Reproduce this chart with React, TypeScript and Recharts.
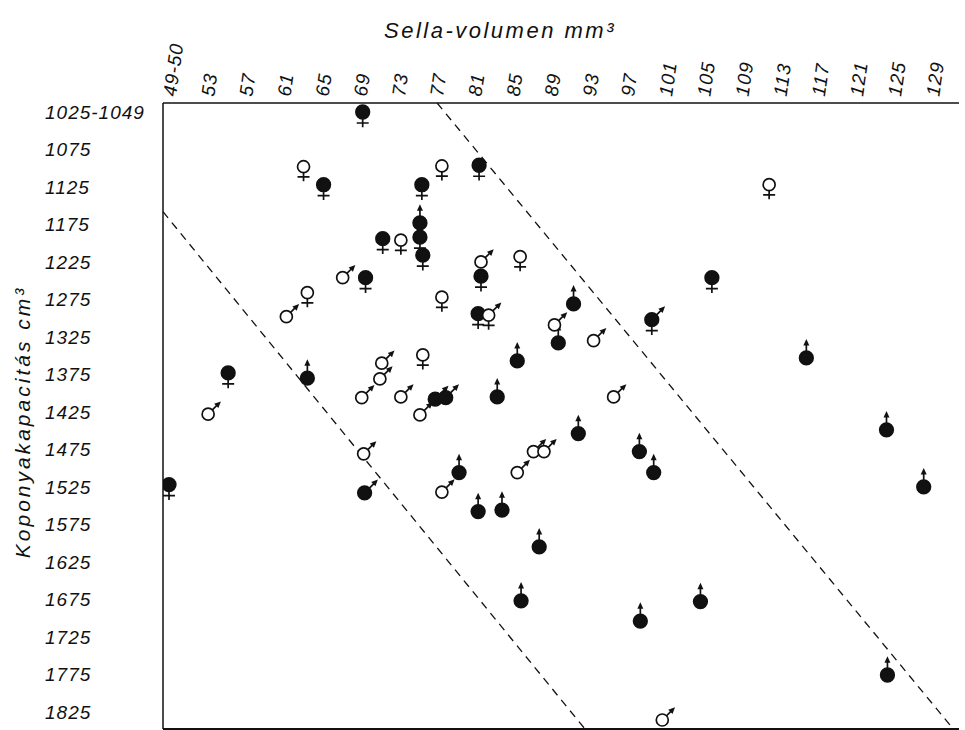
import { ScatterChart, Scatter, XAxis, YAxis, ReferenceLine } from "recharts";

const xTicks = [49, 53, 57, 61, 65, 69, 73, 77, 81, 85, 89, 93, 97, 101, 105, 109, 113, 117, 121, 125, 129];
const yTicks = [1025, 1075, 1125, 1175, 1225, 1275, 1325, 1375, 1425, 1475, 1525, 1575, 1625, 1675, 1725, 1775, 1825];

// filled circle with female cross
const filledFemale = [
  { x: 69.2, y: 1025 }, { x: 65.1, y: 1122 }, { x: 75.4, y: 1122 }, { x: 81.4, y: 1096 },
  { x: 75.2, y: 1192 }, { x: 75.5, y: 1216 }, { x: 71.3, y: 1194 }, { x: 69.5, y: 1246 },
  { x: 81.6, y: 1244 }, { x: 81.3, y: 1294 }, { x: 105.8, y: 1246 }, { x: 55.1, y: 1373 },
  { x: 48.9, y: 1522 },
];
// open circle with female cross
const openFemale = [
  { x: 63.0, y: 1098 }, { x: 77.5, y: 1097 }, { x: 73.2, y: 1196 }, { x: 63.4, y: 1266 },
  { x: 85.7, y: 1218 }, { x: 77.5, y: 1272 }, { x: 75.5, y: 1349 }, { x: 111.8, y: 1122 },
];
// open circle with male arrow
const openMale = [
  { x: 67.1, y: 1246 }, { x: 61.2, y: 1298 }, { x: 81.6, y: 1225 }, { x: 89.3, y: 1309 },
  { x: 93.4, y: 1330 }, { x: 95.5, y: 1405 }, { x: 53.0, y: 1428 }, { x: 71.2, y: 1360 },
  { x: 71.0, y: 1381 }, { x: 69.1, y: 1406 }, { x: 73.2, y: 1405 }, { x: 75.2, y: 1429 },
  { x: 69.3, y: 1481 }, { x: 77.5, y: 1532 }, { x: 85.4, y: 1506 }, { x: 87.1, y: 1478 },
  { x: 88.2, y: 1478 }, { x: 100.6, y: 1836 },
];
// filled circle with male arrow
const filledMale = [{ x: 76.8, y: 1408 }, { x: 77.9, y: 1406 }, { x: 69.4, y: 1533 }];
// both marks
const openBoth = [{ x: 82.4, y: 1296 }];
const filledBoth = [{ x: 99.5, y: 1302 }];
// filled circle with vertical arrow
const filledUp = [
  { x: 75.2, y: 1173 }, { x: 91.3, y: 1281 }, { x: 89.7, y: 1333 }, { x: 115.7, y: 1353 },
  { x: 63.4, y: 1380 }, { x: 83.3, y: 1405 }, { x: 85.4, y: 1357 }, { x: 79.3, y: 1506 },
  { x: 81.3, y: 1558 }, { x: 83.8, y: 1556 }, { x: 87.7, y: 1605 }, { x: 91.8, y: 1454 },
  { x: 98.2, y: 1478 }, { x: 99.7, y: 1506 }, { x: 85.8, y: 1677 }, { x: 98.3, y: 1704 },
  { x: 104.6, y: 1678 }, { x: 124.2, y: 1776 }, { x: 124.1, y: 1449 }, { x: 128.0, y: 1525 },
];

// dashed boundary lines
const guideLow = [{ x: 48.27, y: 1158 }, { x: 92.5, y: 1848 }];
const guideHigh = [{ x: 77.0, y: 1013 }, { x: 131.1, y: 1848 }];

const INK = "#111";
const FONT = "'Liberation Sans', Arial, sans-serif";

function head(tx: number, ty: number, dx: number, dy: number) {
  const bx = tx - dx * 6.5, by = ty - dy * 6.5;
  const px = -dy, py = dx;
  return `${tx},${ty} ${bx + px * 3},${by + py * 3} ${bx - px * 3},${by - py * 3}`;
}

function Glyph({ cx, cy, filled, female, male, up }: any) {
  if (cx == null || cy == null) return null;
  const r = filled ? 6.8 : 6;
  const u = Math.SQRT1_2;
  return (
    <g>
      {female && (
        <path d={`M${cx},${cy + r} V${cy + r + 8.5} M${cx - 6},${cy + r + 4.2} H${cx + 6}`} stroke={INK} strokeWidth={1.7} fill="none" />
      )}
      {male && (
        <g>
          <line x1={cx + r * u} y1={cy - r * u} x2={cx + (r + 7) * u} y2={cy - (r + 7) * u} stroke={INK} strokeWidth={1.7} />
          <polygon points={head(cx + (r + 12) * u, cy - (r + 12) * u, u, -u)} fill={INK} />
        </g>
      )}
      {up && (
        <g>
          <line x1={cx} y1={cy - r} x2={cx} y2={cy - r - 7} stroke={INK} strokeWidth={1.7} />
          <polygon points={head(cx, cy - r - 12, 0, -1)} fill={INK} />
        </g>
      )}
      <circle cx={cx} cy={cy} r={r} fill={filled ? INK : "#fff"} stroke={INK} strokeWidth={1.7} />
    </g>
  );
}

const TopTick = ({ x, payload }: any) => (
  <text
    transform={`translate(${x + 6},97) rotate(-82)`}
    fontSize={19}
    fontStyle="italic"
    fontFamily={FONT}
    letterSpacing={1}
    fill={INK}
    textAnchor="start"
  >
    {payload.value === 49 ? "49-50" : payload.value}
  </text>
);

const LeftTick = ({ y, payload }: any) => (
  <text x={45} y={y + 7} fontSize={19} fontStyle="italic" fontFamily={FONT} letterSpacing={1} fill={INK} textAnchor="start">
    {payload.value === 1025 ? "1025-1049" : payload.value}
  </text>
);

export default function App() {
  const sc = (data: any[], opts: any, key: string) => (
    <Scatter
      key={key}
      data={data}
      isAnimationActive={false}
      shape={(p: any) => <Glyph cx={p.cx} cy={p.cy} {...opts} />}
    />
  );
  return (
    <div style={{ position: "absolute", left: 0, top: 0, width: 965, height: 730, background: "#fff" }}>
      <ScatterChart width={965} height={730} margin={{ top: 0, right: 6, bottom: 1, left: 0 }}>
        <XAxis
          type="number"
          dataKey="x"
          orientation="top"
          domain={[48.27, 131.7]}
          ticks={xTicks}
          interval={0}
          height={103}
          tickLine={false}
          axisLine={{ stroke: INK, strokeWidth: 1.5 }}
          tick={<TopTick />}
          allowDataOverflow
        />
        <YAxis
          type="number"
          dataKey="y"
          reversed
          domain={[1013, 1848]}
          ticks={yTicks}
          interval={0}
          width={163}
          tickLine={false}
          axisLine={{ stroke: INK, strokeWidth: 1.5 }}
          tick={<LeftTick />}
          allowDataOverflow
        />
        <ReferenceLine y={1848} stroke={INK} strokeWidth={2} />
        <ReferenceLine segment={guideLow} stroke={INK} strokeWidth={1.3} strokeDasharray="8 6" />
        <ReferenceLine segment={guideHigh} stroke={INK} strokeWidth={1.3} strokeDasharray="8 6" />
        {sc(filledUp, { filled: true, up: true }, "fu")}
        {sc(filledFemale, { filled: true, female: true }, "ff")}
        {sc(filledMale, { filled: true, male: true }, "fm")}
        {sc(filledBoth, { filled: true, male: true, female: true }, "fb")}
        {sc(openFemale, { female: true }, "of")}
        {sc(openMale, { male: true }, "om")}
        {sc(openBoth, { male: true, female: true }, "ob")}
      </ScatterChart>
      <svg width={965} height={730} style={{ position: "absolute", left: 0, top: 0, pointerEvents: "none" }}>
        <text x={384} y={38} fontSize={22} fontStyle="italic" fontFamily={FONT} letterSpacing={2.5} fill={INK}>
          Sella-volumen mm³
        </text>
        <text
          transform="translate(30,422) rotate(-90)"
          fontSize={21}
          fontStyle="italic"
          fontFamily={FONT}
          letterSpacing={3}
          fill={INK}
          textAnchor="middle"
        >
          Koponyakapacitás cm³
        </text>
      </svg>
    </div>
  );
}
